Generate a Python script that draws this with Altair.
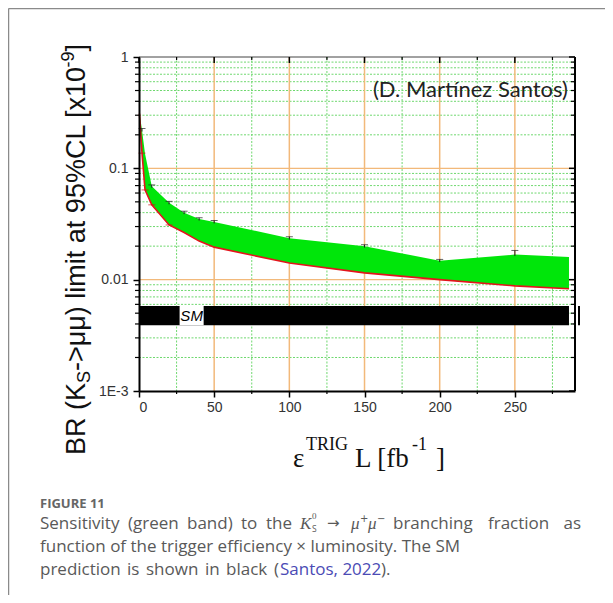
import altair as alt
import pandas as pd

# ---------------- data ----------------
x_band = [0.3, 2, 4, 8.5, 20, 30, 40, 50, 100, 150, 200, 250, 286]
upper = [0.32, 0.22, 0.135, 0.069, 0.049, 0.040, 0.035, 0.033, 0.0236, 0.020, 0.0148, 0.0168, 0.016]
lower = [0.31, 0.137, 0.064, 0.047, 0.031, 0.0265, 0.0222, 0.0196, 0.0141, 0.0115, 0.010, 0.0088, 0.0083]

err_x = [2, 8.5, 20, 30, 40, 50, 100, 150, 200, 250]
err_lo = [0.214, 0.067, 0.0475, 0.0388, 0.034, 0.032, 0.0229, 0.0194, 0.0144, 0.0163]
err_hi = [0.228, 0.071, 0.0505, 0.0412, 0.036, 0.034, 0.0243, 0.0206, 0.0152, 0.0183]

red_err_x = [2, 4, 8.5, 20]
red_err_v = [0.137, 0.064, 0.047, 0.031]

sm_x = [0, 286]
sm_lo = 0.0039
sm_hi = 0.0058
sm_label_x = [27, 43]

x_major = [0, 50, 100, 150, 200, 250]
x_grid_major = [50, 100, 150, 200, 250]
x_minor = [25, 75, 125, 175, 225, 275]
y_major = [0.001, 0.01, 0.1, 1]
y_grid_major = [0.01, 0.1]
y_minor = [m * d for d in (0.001, 0.01, 0.1) for m in range(2, 10)]

W, H = 436, 334
XS = alt.Scale(domain=[0, 290], nice=False, zero=False)
YS = alt.Scale(type="log", domain=[0.001, 1], nice=False)


def X(f, **kw):
    return alt.X(f, type="quantitative", scale=XS, title=None, **kw)


def Y(f, **kw):
    return alt.Y(f, type="quantitative", scale=YS, title=None, **kw)


def one():
    return pd.DataFrame({"k": [0]})


def txt(text, x, y, **kw):
    return alt.Chart(pd.DataFrame({"t": [text]})).mark_text(**kw).encode(
        text="t:N", x=alt.value(x), y=alt.value(y))


band_df = pd.DataFrame({"x": x_band, "up": upper, "lo": lower})
err_df = pd.DataFrame({"x": err_x, "lo": err_lo, "hi": err_hi})
red_df = pd.DataFrame({"x": red_err_x, "v": red_err_v})
xg_df = pd.DataFrame({"x": x_grid_major})
xm_df = pd.DataFrame({"x": x_minor})
yg_df = pd.DataFrame({"y": y_grid_major})
ym_df = pd.DataFrame({"y": y_minor})
yM_df = pd.DataFrame({"y": y_major})
xM_df = pd.DataFrame({"x": x_major})

layers = []

# main axes (left / bottom) carried by an invisible layer
axis_layer = alt.Chart(pd.DataFrame({"x": [0, 290], "y": [0.001, 1]})).mark_point(opacity=0).encode(
    x=alt.X("x:Q", scale=XS, title=None, axis=alt.Axis(
        values=x_major, grid=False, tickSize=6, tickWidth=1.5, tickColor="black",
        domainColor="black", domainWidth=2, labelFont="Liberation Sans", labelFontSize=14,
        labelColor="#333", labelPadding=3, format="d", zindex=1)),
    y=alt.Y("y:Q", scale=YS, title=None, axis=alt.Axis(
        values=y_major, grid=False, tickSize=6, tickWidth=1.5, tickColor="black",
        domainColor="black", domainWidth=2, labelFont="Liberation Sans", labelFontSize=14,
        labelColor="#333", labelPadding=5, zindex=1,
        labelExpr="datum.value > 0.5 ? '1' : datum.value > 0.05 ? '0.1' : datum.value > 0.005 ? '0.01' : '1E-3'")),
)
layers.append(axis_layer)

# grids
layers.append(alt.Chart(ym_df).mark_rule(color="#6fd86f", strokeWidth=1, strokeDash=[2, 1.5]).encode(
    y=Y("y"), x=alt.value(0), x2=alt.value(W)))
layers.append(alt.Chart(xm_df).mark_rule(color="#6fd86f", strokeWidth=1, strokeDash=[2, 1.5]).encode(
    x=X("x"), y=alt.value(0), y2=alt.value(H)))
layers.append(alt.Chart(yg_df).mark_rule(color="#f2b97a", strokeWidth=1.2).encode(
    y=Y("y"), x=alt.value(0), x2=alt.value(W)))
layers.append(alt.Chart(xg_df).mark_rule(color="#f2b97a", strokeWidth=1.5).encode(
    x=X("x"), y=alt.value(0), y2=alt.value(H)))

# green band and red lower line
layers.append(alt.Chart(band_df).mark_area(color="#00e60a", opacity=1).encode(
    x=X("x"), y=Y("up"), y2="lo"))
layers.append(alt.Chart(band_df).mark_line(color="#e3141b", strokeWidth=1.6).encode(
    x=X("x"), y=Y("lo")))

# error bars on upper edge
layers.append(alt.Chart(err_df).mark_rule(color="#222", strokeWidth=1).encode(
    x=X("x"), y=Y("lo"), y2="hi"))
layers.append(alt.Chart(err_df).mark_tick(color="#222", orient="horizontal", size=7, thickness=1).encode(
    x=X("x"), y=Y("hi")))
layers.append(alt.Chart(red_df).mark_tick(color="#d01010", orient="horizontal", size=7, thickness=1).encode(
    x=X("x"), y=Y("v")))

# SM band
sm_df = pd.DataFrame({"x": [sm_x[0]], "x2": [sm_x[1]], "lo": [sm_lo], "hi": [sm_hi]})
layers.append(alt.Chart(sm_df).mark_rect(color="black").encode(
    x=X("x"), x2="x2", y=Y("lo"), y2="hi"))
smb_df = pd.DataFrame({"x": [sm_label_x[0]], "x2": [sm_label_x[1]], "lo": [sm_lo], "hi": [sm_hi]})
layers.append(alt.Chart(smb_df).mark_rect(color="white").encode(
    x=X("x"), x2="x2", y=Y("lo"), y2="hi"))
layers.append(alt.Chart(pd.DataFrame({"x": [35], "y": [(sm_lo * sm_hi) ** 0.5], "t": ["SM"]})).mark_text(
    font="Liberation Sans", fontSize=15, fontStyle="italic", color="black", baseline="middle").encode(
    x=X("x"), y=Y("y"), text="t:N"))
layers.append(alt.Chart(pd.DataFrame({"lo": [sm_lo], "hi": [sm_hi]})).mark_rule(color="black", strokeWidth=2).encode(
    x=alt.value(W + 4), y=Y("lo"), y2="hi"))

# frame of the plot: right and top axes
layers.append(alt.Chart(one()).mark_rule(color="black", strokeWidth=2).encode(
    x=alt.value(W), y=alt.value(0), y2=alt.value(H)))
layers.append(alt.Chart(one()).mark_rule(color="#444", strokeWidth=1).encode(
    x=alt.value(0), x2=alt.value(W), y=alt.value(0)))
# minor ticks
layers.append(alt.Chart(ym_df).mark_rule(color="black", strokeWidth=1.2).encode(
    y=Y("y"), x=alt.value(-4), x2=alt.value(0)))
layers.append(alt.Chart(ym_df).mark_rule(color="black", strokeWidth=1.2).encode(
    y=Y("y"), x=alt.value(W - 4), x2=alt.value(W)))
layers.append(alt.Chart(yM_df).mark_rule(color="black", strokeWidth=1.5).encode(
    y=Y("y"), x=alt.value(W - 6), x2=alt.value(W)))
layers.append(alt.Chart(xm_df).mark_rule(color="black", strokeWidth=1.2).encode(
    x=X("x"), y=alt.value(H), y2=alt.value(H + 3)))
layers.append(alt.Chart(xm_df).mark_rule(color="black", strokeWidth=1.2).encode(
    x=X("x"), y=alt.value(0), y2=alt.value(3)))
layers.append(alt.Chart(xM_df).mark_rule(color="black", strokeWidth=1.5).encode(
    x=X("x"), y=alt.value(0), y2=alt.value(6)))

# annotation
layers.append(txt("(D. Martínez Santos)", 429, 33, font="Lato", fontSize=22, color="#222", align="right"))

# y-axis title (rotated, pieces)
yt = dict(font="Liberation Sans", color="#111", angle=270, align="left", baseline="alphabetic")
layers.append(txt("BR (K", -54, 398, fontSize=27, **yt))
layers.append(txt("S", -49, 326, fontSize=18, **yt))
layers.append(txt("->μμ) limit at 95%CL [x10", -54, 314, fontSize=27, **yt))
layers.append(txt("-9", -65, 10.6, fontSize=18, **yt))
layers.append(txt("]", -54, -5.4, fontSize=27, **yt))

# x-axis title (pieces)
xt = dict(font="Liberation Serif", color="#111", align="left", baseline="alphabetic")
layers.append(txt("ε", 154, 410, fontSize=27, **xt))
layers.append(txt("TRIG", 167, 393, fontSize=18, **xt))
layers.append(txt("L [fb", 216, 410, fontSize=27, **xt))
layers.append(txt("-1", 273, 393, fontSize=18, **xt))
layers.append(txt("]", 297, 410, fontSize=27, **xt))

# caption (positions given in page pixels, converted to plot pixels)
CG = "#595959"
OX = 139
cap = dict(font="Open Sans", fontSize=17, color=CG, align="left", baseline="alphabetic")
layers.append(txt("FIGURE 11", 40 - OX, 451, font="Open Sans", fontSize=13, fontWeight="bold", color="#666",
                  align="left", baseline="alphabetic"))
# line 1 (justified in the reference: words placed one by one)
for word, px in [("Sensitivity", 40), ("(green", 128), ("band)", 187), ("to", 241), ("the", 266),
                 ("branching", 393), ("fraction", 488)]:
    layers.append(txt(word, px - OX, 472, **cap))
layers.append(txt("as", 581 - OX, 472, font="Open Sans", fontSize=17, color=CG, align="right",
                  baseline="alphabetic"))
ser = dict(font="Liberation Serif", color=CG, align="left", baseline="alphabetic")
layers.append(txt("K", 300 - OX, 472, fontSize=17, fontStyle="italic", **ser))
layers.append(txt("0", 312 - OX, 462, fontSize=9, **ser))
layers.append(txt("S", 312 - OX, 475, font="Open Sans", fontSize=8.5, color=CG, align="left",
                  baseline="alphabetic"))
layers.append(txt("→", 327 - OX, 471, font="DejaVu Sans", fontSize=15, color=CG, align="left",
                  baseline="alphabetic"))
layers.append(txt("μ", 351 - OX, 472, fontSize=17, fontStyle="italic", **ser))
layers.append(txt("+", 360 - OX, 465, font="DejaVu Sans", fontSize=10, color=CG, align="left",
                  baseline="alphabetic"))
layers.append(txt("μ", 368 - OX, 472, fontSize=17, fontStyle="italic", **ser))
layers.append(txt("−", 377 - OX, 465, font="DejaVu Sans", fontSize=10, color=CG, align="left",
                  baseline="alphabetic"))
layers.append(txt("function of the trigger efficiency × luminosity. The SM", 40 - OX, 495, **cap))
for word, px in [("prediction", 40), ("is", 127), ("shown", 146), ("in", 205), ("black", 226), ("(", 274)]:
    layers.append(txt(word, px - OX, 518, **cap))
layers.append(txt("Santos, 2022", 280 - OX, 518, font="Open Sans", fontSize=17, color="#4b4bb5", align="left",
                  baseline="alphabetic"))
layers.append(txt(").", 381 - OX, 518, **cap))

# outer card edges
layers.append(alt.Chart(one()).mark_rule(color="#8a8a8a", strokeWidth=1.5).encode(
    x=alt.value(-130.5), y=alt.value(-48.5), y2=alt.value(H + 204)))
layers.append(alt.Chart(one()).mark_rule(color="#8a8a8a", strokeWidth=1.5).encode(
    x=alt.value(-130.5), x2=alt.value(W + 30), y=alt.value(-48.5)))

chart = alt.layer(*layers).properties(
    width=W, height=H,
    autosize=alt.AutoSizeParams(type="none"),
    padding={"left": 131, "top": 49, "right": 30, "bottom": 204},
    background="white",
).configure_view(strokeWidth=0)

chart.save("out.html", embed_options={"renderer": "svg", "actions": False})
